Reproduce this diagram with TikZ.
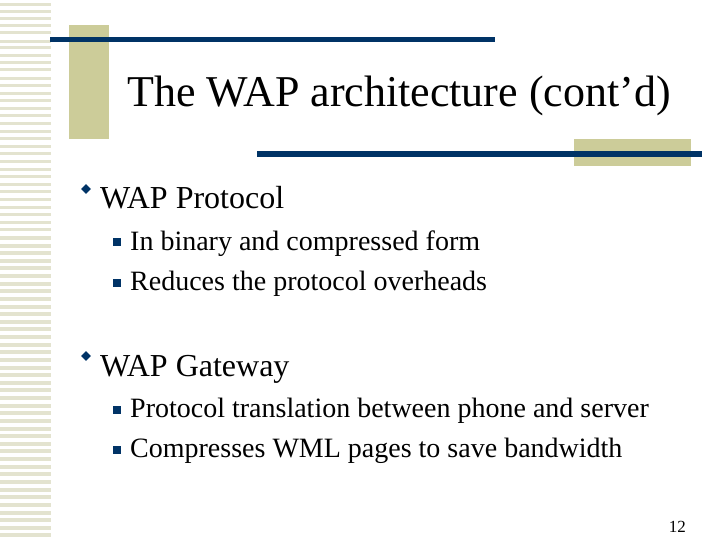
\documentclass[tikz,border=0pt]{standalone}
\usepackage{fontspec}
\setmainfont{Liberation Serif}
\definecolor{tan}{HTML}{CCCC99}
\definecolor{navy}{HTML}{003366}
\definecolor{stripe}{HTML}{E3E3CF}
\begin{document}
\begin{tikzpicture}[x=1pt,y=-1pt,
  txt/.style={anchor=base west,inner sep=0pt},
  big/.style={txt,font=\fontsize{32}{36}\selectfont},
  small/.style={txt,font=\fontsize{28}{32}\selectfont},
  dia/.style={fill=navy,rotate=45,minimum size=7pt,inner sep=0pt},
  sq/.style={fill=navy,minimum size=8pt,inner sep=0pt}]
\useasboundingbox[fill=white] (0,0) rectangle (720,540);
\foreach \y in {3,10,17,24,31,40,46,54,61,68,77,84,92,99,107,114,122,130,137,145,152,160,168,175,183,190,198,206,213,221,228,236,244,251,259,266,274,282,289,297,305,312,320,327,335,343,350,358,366,373,381,388,396,404,411,419,427,434,442,449,457,465,472,480,488,495,503,511,518,526,533}
  \fill[stripe] (0,\y) rectangle (51,\y+3.5);
\fill[tan] (69,25) rectangle (109,139);
\fill[navy] (50,37) rectangle (495,42);
\fill[tan] (574,139) rectangle (691,166);
\fill[navy] (257,151) rectangle (702,157);
\node[anchor=base,inner sep=0pt,font=\fontsize{44}{50}\selectfont] (title) at (399,107) {The WAP architecture (cont’d)};
\node[dia] (d1) at (86,189) {};
\node[big] (b1) at (100,209) {WAP Protocol};
\node[sq] (s1) at (117,242) {};
\node[small] (t1) at (130,250) {In binary and compressed form};
\node[sq] (s2) at (117,283) {};
\node[small] (t2) at (130,290) {Reduces the protocol overheads};
\node[dia] (d2) at (86,356) {};
\node[big] (b2) at (100,376) {WAP Gateway};
\node[sq] (s3) at (117,410) {};
\node[small] (t3) at (130,417) {Protocol translation between phone and server};
\node[sq] (s4) at (117,450) {};
\node[small] (t4) at (130,457) {Compresses WML pages to save bandwidth};
\node[anchor=base east,inner sep=0pt,font=\fontsize{17}{20}\selectfont] (pg) at (686,532) {12};
\end{tikzpicture}
\end{document}
